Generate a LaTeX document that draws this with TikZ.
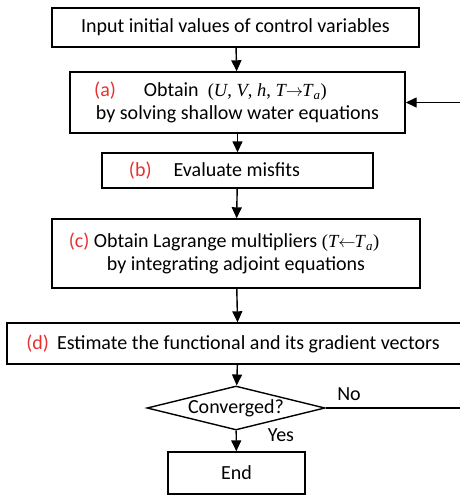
\documentclass[tikz,border=0pt]{standalone}
\usepackage{fontspec}
\setmainfont{Carlito}
\newfontfamily\varfont{Liberation Serif}
\usetikzlibrary{shapes.geometric,arrows.meta}
\definecolor{steplabel}{RGB}{232,48,48}
\newcommand{\steptag}[1]{\textcolor{steplabel}{(#1)}}
\newcommand{\vars}[1]{{\varfont\fontsize{18.5}{20}\selectfont #1}}
\newcommand{\Ta}{\textit{T}\textsubscript{\textit{a}}}
\begin{document}
\begin{tikzpicture}[x=1pt, y=-1pt,
  box/.style={draw, line width=1.4pt, align=center, inner sep=0pt, font=\fontsize{20}{22.5}\selectfont},
  test/.style={draw, diamond, aspect=4, line width=1.4pt, inner sep=0pt, minimum width=178pt, minimum height=44pt, font=\fontsize{20}{22.5}\selectfont},
  flow/.style={line width=1.4pt, -{Triangle[length=11pt,width=10pt]}},
  tag/.style={font=\fontsize{20}{22.5}\selectfont}
]
\useasboundingbox (0,0) rectangle (459,495);
% boxes of the loop
\node[box, minimum width=367pt, minimum height=39pt] (init) at (235.5,27.5) {Input initial values of control variables};
\node[box, minimum width=335pt, minimum height=61pt] (fwd) at (237.5,102.5)
  {\steptag{a}\hspace{1.4em}Obtain~ \vars{(\textit{U}, \textit{V}, \textit{h}, \textit{T}\kern-1pt$\rightarrow$\kern-1pt\Ta)}\hspace*{2.7em}\\ by solving shallow water equations};
\node[box, minimum width=271pt, minimum height=35pt] (misfit) at (237.5,170.5)
  {\steptag{b}\hspace{1.1em}Evaluate misfits\hspace*{2.3em}};
\node[box, minimum width=368pt, minimum height=69pt] (adj) at (236,253.5)
  {\steptag{c} Obtain Lagrange multipliers \vars{(\textit{T}\kern-1pt$\leftarrow$\kern-1pt\Ta)}\hspace*{1.2em}\\ by integrating adjoint equations};
\node[box, minimum width=462pt, minimum height=41pt] (grad) at (238,343.5)
  {\steptag{d}\hspace{0.4em}Estimate the functional and its gradient vectors\hspace*{0.5em}};
\node[test] (conv) at (236,408) {Converged?};
\node[box, minimum width=137pt, minimum height=42pt] (stop) at (236.5,473) {End};
\node[tag] (no) at (349,394) {No};
\node[tag] (yes) at (281,435) {Yes};
\coordinate (back) at (462,408);
% connectors
\draw[flow] (init) -- (fwd);
\draw[flow] (fwd) -- (misfit);
\draw[flow] (misfit) -- (adj);
\draw[flow] (adj) -- (grad);
\draw[flow] (grad) -- (conv);
\draw[flow] (conv) -- (stop);
\draw[flow] (conv.east) -- (back) |- (fwd.east);
\end{tikzpicture}
\end{document}
